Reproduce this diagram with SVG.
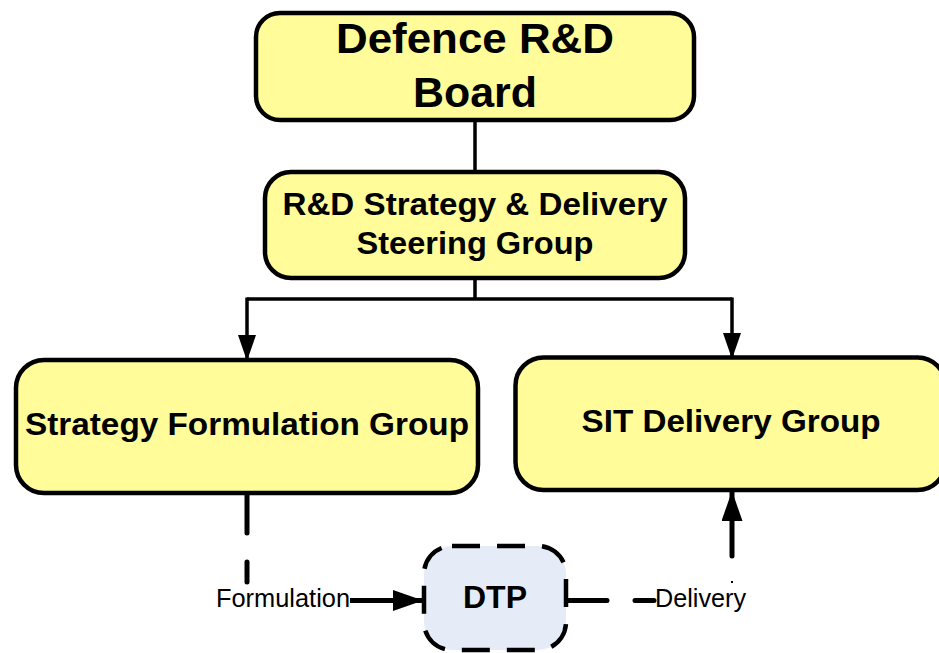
<svg xmlns="http://www.w3.org/2000/svg" width="939" height="653" viewBox="0 0 939 653">
<style>
.box{fill:#FFFC99;stroke:#000;stroke-width:4.5}
.dtp{fill:#E6ECF7;stroke:#000;stroke-width:4.5;stroke-dasharray:28 17}
.t{font-family:"Liberation Sans",Arial,sans-serif;font-weight:bold;fill:#000;text-anchor:middle}
.lbl{font-family:"Liberation Sans",Arial,sans-serif;fill:#000}
.c{stroke:#000;fill:none}
</style>
<defs>
<marker id="ah" markerUnits="userSpaceOnUse" viewBox="0 0 26 18" refX="26" refY="9" markerWidth="26" markerHeight="18" orient="auto">
<path d="M0,0 L26,9 L0,18 Z" fill="#000"/>
</marker>
<marker id="ahb" markerUnits="userSpaceOnUse" viewBox="0 0 30 21" refX="30" refY="10.5" markerWidth="30" markerHeight="21" orient="auto">
<path d="M0,0 L30,10.5 L0,21 Z" fill="#000"/>
</marker>
</defs>
<rect width="939" height="653" fill="#fff"/>
<g id="connectors">
<line class="c" x1="475" y1="120" x2="475" y2="172" stroke-width="3.5"/>
<path class="c" d="M475,278 V299 M247,299 H732" stroke-width="3.5"/>
<line class="c" x1="247" y1="297.5" x2="247" y2="361" stroke-width="3.5" marker-end="url(#ah)"/>
<line class="c" x1="732" y1="297.5" x2="732" y2="359" stroke-width="3.5" marker-end="url(#ah)"/>
<path class="c" d="M247,493 V533 M247,562 V582" stroke-width="5" stroke-linecap="round"/>
<line class="c" x1="350" y1="600.5" x2="423" y2="600.5" stroke-width="5" marker-end="url(#ahb)"/>
<path class="c" d="M566,600.5 H607 M635,600.5 H654" stroke-width="5" stroke-linecap="round"/>
<path class="c" d="M732,581 V583" stroke-width="2"/>
<line class="c" x1="732" y1="556" x2="732" y2="491" stroke-width="5" stroke-linecap="round" marker-end="url(#ahb)"/>
</g>
<g id="node-board">
<rect class="box" x="256" y="13" width="438" height="107" rx="24"/>
<text class="t" x="475" y="53" font-size="42" textLength="278" lengthAdjust="spacingAndGlyphs">Defence R&amp;D</text>
<text class="t" x="475" y="107" font-size="42" textLength="124" lengthAdjust="spacingAndGlyphs">Board</text>
</g>
<g id="node-steering">
<rect class="box" x="265" y="172" width="420" height="106" rx="26"/>
<text class="t" x="475" y="215" font-size="32" textLength="385" lengthAdjust="spacingAndGlyphs">R&amp;D Strategy &amp; Delivery</text>
<text class="t" x="475" y="254" font-size="32" textLength="237" lengthAdjust="spacingAndGlyphs">Steering Group</text>
</g>
<g id="node-sfg">
<rect class="box" x="16" y="360" width="462" height="133" rx="28"/>
<text class="t" x="247" y="435" font-size="32" textLength="444" lengthAdjust="spacingAndGlyphs">Strategy Formulation Group</text>
</g>
<g id="node-sitdg">
<rect class="box" x="515.5" y="357.5" width="430" height="132.5" rx="28"/>
<text class="t" x="731" y="432" font-size="32" textLength="299" lengthAdjust="spacingAndGlyphs">SIT Delivery Group</text>
</g>
<g id="node-dtp">
<rect class="dtp" x="424" y="546" width="142" height="104" rx="28"/>
<text class="t" x="495" y="608" font-size="32" textLength="64" lengthAdjust="spacingAndGlyphs">DTP</text>
</g>
<g id="labels">
<text class="lbl" x="216" y="607" font-size="26" textLength="134" lengthAdjust="spacingAndGlyphs">Formulation</text>
<text class="lbl" x="655" y="607" font-size="26" textLength="91" lengthAdjust="spacingAndGlyphs">Delivery</text>
</g>
</svg>
